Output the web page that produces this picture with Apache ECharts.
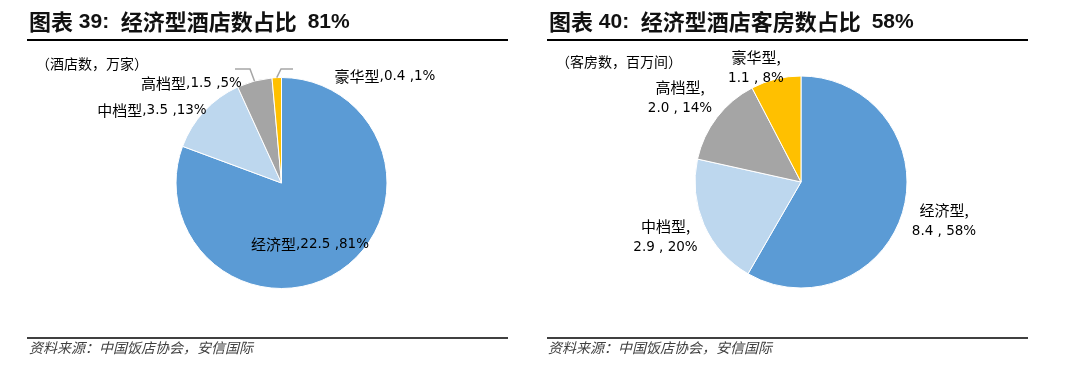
<!DOCTYPE html>
<html><head><meta charset="utf-8">
<script src="https://cdn.jsdelivr.net/npm/echarts@6/dist/echarts.min.js"></script>
<style>html,body{margin:0;padding:0;background:#fff}#c{width:1071px;height:369px}</style>
</head><body><div id="c"></div>
<script>
// ---- data ----
const categories = ['经济型', '中档型', '高档型', '豪华型'];
const hotelCounts = [22.5, 3.5, 1.5, 0.4];   // 万家
const roomCounts = [8.4, 2.9, 2.0, 1.1];     // 百万间
const leftTitleParts = ['图表', '39:', '经济型酒店数占比', '81%'];
const rightTitleParts = ['图表', '40:', '经济型酒店客房数占比', '58%'];
const leftUnit = '（酒店数，万家）';
const rightUnit = '（客房数，百万间）';
const sourceText = '资料来源：中国饭店协会，安信国际';
const colors = ['#5B9BD5', '#BDD7EE', '#A5A5A5', '#FFC000'];

const CJK = "'Noto Sans CJK SC'";
const LAT = "'DejaVu Sans', 'Noto Sans CJK SC'";
const labelRich = {
  c: { fontFamily: CJK, fontSize: 15, color: '#000' },
  n: { fontFamily: LAT, fontSize: 13.5, color: '#000' }
};

const chart = echarts.init(document.getElementById('c'), null, { renderer: 'canvas' });

function pieData(values) {
  return categories.map((n, i) => ({ name: n, value: values[i], itemStyle: { color: colors[i] } }));
}

const leftCenter = [281.5, 183], rightCenter = [801, 182];
const leftLabelPos = [[310, 244], [152, 110], [191.5, 83], [385, 76]];
const rightLabelPos = [[944, 221], [665.5, 237], [680, 97.5], [756, 67.5]];

function titleText(parts) {
  return '{a|' + parts[0] + '} {b|' + parts[1] + '}  {a|' + parts[2] + '} {p|' + parts[3] + '}';
}
const titleRich = {
  a: { fontFamily: CJK, fontWeight: 'bold', fontSize: 22, fill: '#111' },
  b: { fontFamily: "'Liberation Sans'", fontWeight: 'bold', fontSize: 21, fill: '#111' },
  p: { fontFamily: "'Liberation Sans'", fontWeight: 'bold', fontSize: 21, fill: '#111', padding: [0, 0, 0, 5] }
};

const option = {
  animation: false,
  graphic: [
    { type: 'text', x: 29, y: 22, style: { text: titleText(leftTitleParts), rich: titleRich, verticalAlign: 'middle', font: "bold 21px 'Liberation Sans'" } },
    { type: 'text', x: 549, y: 22, style: { text: titleText(rightTitleParts), rich: titleRich, verticalAlign: 'middle', font: "bold 21px 'Liberation Sans'" } },
    { type: 'line', shape: { x1: 27, y1: 40, x2: 508, y2: 40 }, style: { stroke: '#000', lineWidth: 2 } },
    { type: 'line', shape: { x1: 547, y1: 40, x2: 1028, y2: 40 }, style: { stroke: '#000', lineWidth: 2 } },
    { type: 'line', shape: { x1: 27, y1: 338, x2: 508, y2: 338 }, style: { stroke: '#404040', lineWidth: 2 } },
    { type: 'line', shape: { x1: 547, y1: 338, x2: 1028, y2: 338 }, style: { stroke: '#404040', lineWidth: 2 } },
    { type: 'text', x: 36, y: 64, style: { text: leftUnit, font: "14px 'Noto Sans CJK SC'", fill: '#000', verticalAlign: 'middle' } },
    { type: 'text', x: 556, y: 62, style: { text: rightUnit, font: "14px 'Noto Sans CJK SC'", fill: '#000', verticalAlign: 'middle' } },
    { type: 'text', x: 29, y: 348, style: { text: sourceText, font: "italic 14px 'Noto Sans CJK SC'", fill: '#404040', verticalAlign: 'middle' } },
    { type: 'text', x: 548, y: 348, style: { text: sourceText, font: "italic 14px 'Noto Sans CJK SC'", fill: '#404040', verticalAlign: 'middle' } }
  ],
  series: [
    {
      type: 'pie', center: leftCenter, radius: 105.5, startAngle: 90, clockwise: true,
      percentPrecision: 0, avoidLabelOverlap: false, silent: true,
      data: pieData(hotelCounts),
      itemStyle: { borderColor: '#fff', borderWidth: 1 },
      label: {
        show: true, position: 'outside',
        formatter: p => '{c|' + p.name + '}{n|,' + p.value.toFixed(1) + ' ,' + p.percent + '%}',
        rich: labelRich
      },
      labelLine: { show: false },
      labelLayout: p => ({ x: leftLabelPos[p.dataIndex][0], y: leftLabelPos[p.dataIndex][1], align: 'center', verticalAlign: 'middle' })
    },
    {
      // leader lines for the two small slices
      type: 'pie', center: leftCenter, radius: 105.5, startAngle: 90, clockwise: true,
      avoidLabelOverlap: false, silent: true, z: 3,
      data: categories.map((n, i) => ({
        name: n, value: hotelCounts[i],
        itemStyle: { color: 'rgba(0,0,0,0)' },
        label: { show: i >= 2 },
        labelLine: { show: i >= 2, length: 10, length2: i === 2 ? 15 : 12 }
      })),
      itemStyle: { borderWidth: 0 },
      label: { position: 'outside', formatter: ' ', fontSize: 2, color: 'rgba(0,0,0,0)' },
      labelLine: { lineStyle: { color: '#A6A6A6', width: 1.5 } },
      labelLayout: p => p.dataIndex === 2
        ? { x: 235, y: 69, align: 'right', verticalAlign: 'middle' }
        : { x: 293, y: 69, align: 'left', verticalAlign: 'middle' }
    },
    {
      type: 'pie', center: rightCenter, radius: 106, startAngle: 90, clockwise: true,
      percentPrecision: 0, avoidLabelOverlap: false, silent: true,
      data: pieData(roomCounts),
      itemStyle: { borderColor: '#fff', borderWidth: 1 },
      label: {
        show: true, position: 'outside', lineHeight: 21,
        formatter: p => '{c|' + p.name + ',}\n{n|' + p.value.toFixed(1) + ' , ' + p.percent + '%}',
        rich: { c: Object.assign({ lineHeight: 21 }, labelRich.c), n: Object.assign({ lineHeight: 21 }, labelRich.n) }
      },
      labelLine: { show: false },
      labelLayout: p => ({ x: rightLabelPos[p.dataIndex][0], y: rightLabelPos[p.dataIndex][1], align: 'center', verticalAlign: 'middle' })
    }
  ]
};
chart.setOption(option);
</script>
</body></html>
